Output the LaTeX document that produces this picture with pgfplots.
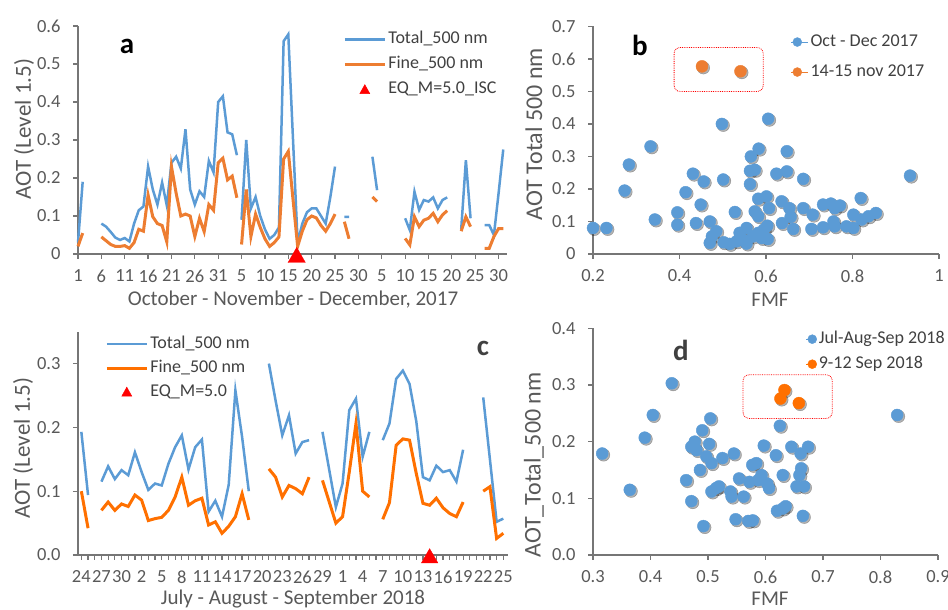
\documentclass[border=0pt]{standalone}
\usepackage{fontspec}
\setmainfont{Carlito}
\usepackage{pgfplots}
\usepackage{pgfplotstable}
\pgfplotsset{compat=1.18}

\definecolor{tblue}{RGB}{91,155,213}
\definecolor{forange}{RGB}{237,125,49}
\definecolor{forange2}{RGB}{255,112,0}
\definecolor{axgray}{RGB}{118,118,118}
\definecolor{txtgray}{RGB}{89,89,89}
\definecolor{lettgray}{RGB}{64,64,64}

% daily AOT, Oct-Dec 2017 (day 1 = 1 Oct)
\pgfplotstableread{
day total fine
1 0.03 0.02
2 0.19 0.055
3 nan nan
6 0.08 0.045
7 0.072 0.035
8 0.058 0.025
9 0.043 0.02
10 0.037 0.02
11 0.042 0.022
12 0.033 0.015
13 0.08 0.03
14 0.115 0.065
15 0.125 0.06
16 0.23 0.155
17 0.17 0.098
18 0.13 0.08
19 0.188 0.075
20 0.128 0.032
21 0.24 0.23
22 0.256 0.16
23 0.225 0.1
24 0.328 0.105
25 0.17 0.1
26 0.13 0.046
27 0.165 0.094
28 0.15 0.059
29 0.245 0.13
30 0.215 0.115
31 0.40 0.24
32 0.415 0.252
33 0.32 0.195
34 0.315 0.205
35 0.26 0.148
35.5 nan nan
36 0.09 0.025
37 0.30 0.17
38 0.12 0.046
39 0.15 0.105
40 0.10 0.07
41 0.065 0.04
42 0.04 0.02
43 0.05 0.03
44 0.07 0.045
45 0.56 0.25
46 0.578 0.27
48 0.03 0.02
49 0.08 0.06
50 0.11 0.09
51 0.12 0.10
52 0.12 0.095
53 0.10 0.075
54 0.08 0.06
55 0.15 0.08
56 0.23 0.105
57 nan nan
58 0.098 0.085
59 0.098 0.04
60 nan nan
64 0.256 0.15
65 0.168 0.138
66 nan nan
71 0.094 0.041
72 0.063 0.024
73 0.164 0.098
74 0.116 0.072
75 0.142 0.089
76 0.138 0.094
77 0.149 0.107
78 0.12 0.085
79 0.142 0.103
80 0.149 0.114
81 nan nan
83 0.065 0.06
84 0.247 0.098
85 0.094 0.072
86 nan nan
88 0.076 0.015
89 0.076 0.015
90 0.05 0.046
91 0.16 0.067
92 0.275 0.067
}\octdec

% daily AOT, Jul-Sep 2018 (day 0 = 24 Jul)
\pgfplotstableread{
day total fine
0 0.193 0.10
1 0.094 0.042
2 nan nan
3 0.115 0.07
4 0.139 0.083
5 0.119 0.07
6 0.133 0.08
7 0.125 0.076
8 0.161 0.094
9 0.13 0.086
10 0.102 0.054
11 0.112 0.057
12 0.109 0.059
13 0.143 0.07
14 0.169 0.091
15 0.1875 0.122
16 0.134 0.078
17 0.169 0.085
18 0.181 0.089
19 0.068 0.047
20 0.085 0.052
21 0.06 0.034
22 0.11 0.045
23 0.258 0.06
24 0.185 0.096
25 0.10 0.055
26 nan nan
28 0.30 0.135
29 0.242 0.122
30 0.1875 0.091
31 0.219 0.109
32 0.159 0.104
33 0.177 0.096
34 0.18 0.122
35 nan nan
36 0.193 0.117
38 0.075 0.05
39 0.112 0.06
40 0.227 0.13
41 0.245 0.206
42 0.154 0.10
43 0.193 0.091
44 nan nan
45 0.18 0.056
46 0.206 0.082
47 0.276 0.172
48 0.289 0.182
49 0.268 0.18
50 0.21 0.128
51 0.122 0.081
52 0.117 0.078
53 0.14 0.089
54 0.13 0.074
55 0.133 0.065
56 0.115 0.06
57 0.165 0.083
58 nan nan
60 0.247 0.10
61 0.15 0.107
62 0.052 0.026
63 0.057 0.034
}\julsep

% FMF vs AOT, Oct-Dec 2017
\pgfplotstableread{
fmf aot
0.2 0.08
0.231 0.08
0.273 0.195
0.283 0.275
0.333 0.331
0.343 0.106
0.395 0.128
0.395 0.09
0.414 0.19
0.431 0.247
0.438 0.095
0.449 0.152
0.456 0.223
0.47 0.10
0.47 0.034
0.475 0.054
0.485 0.07
0.498 0.40
0.501 0.229
0.502 0.036
0.516 0.031
0.528 0.129
0.532 0.039
0.547 0.044
0.555 0.032
0.555 0.08
0.563 0.215
0.563 0.256
0.565 0.30
0.574 0.259
0.574 0.131
0.57 0.054
0.582 0.065
0.582 0.116
0.582 0.17
0.583 0.324
0.59 0.049
0.595 0.075
0.601 0.177
0.603 0.087
0.604 0.046
0.605 0.416
0.607 0.141
0.624 0.247
0.636 0.162
0.637 0.095
0.648 0.254
0.648 0.316
0.654 0.141
0.657 0.114
0.663 0.077
0.686 0.231
0.686 0.141
0.708 0.121
0.705 0.077
0.732 0.082
0.732 0.152
0.75 0.155
0.756 0.10
0.759 0.085
0.759 0.141
0.771 0.149
0.786 0.085
0.802 0.121
0.802 0.08
0.819 0.172
0.821 0.106
0.837 0.116
0.854 0.126
0.933 0.241
0.539 0.065
}\scatB
\pgfplotstableread{
fmf aot
0.452 0.577
0.541 0.562
}\scatBev

% FMF vs AOT, Jul-Sep 2018
\pgfplotstableread{
fmf aot
0.316 0.179
0.364 0.115
0.39 0.207
0.404 0.247
0.437 0.303
0.462 0.132
0.471 0.095
0.471 0.191
0.48 0.185
0.477 0.2
0.486 0.15
0.49 0.22
0.492 0.051
0.497 0.174
0.502 0.196
0.504 0.241
0.506 0.162
0.506 0.112
0.514 0.118
0.519 0.121
0.525 0.171
0.539 0.112
0.541 0.103
0.545 0.179
0.548 0.063
0.554 0.135
0.562 0.103
0.57 0.06
0.578 0.061
0.572 0.129
0.577 0.159
0.584 0.162
0.587 0.132
0.593 0.141
0.597 0.193
0.603 0.126
0.606 0.118
0.618 0.176
0.62 0.078
0.625 0.228
0.63 0.082
0.635 0.086
0.63 0.141
0.645 0.191
0.654 0.121
0.659 0.141
0.662 0.153
0.661 0.179
0.667 0.121
0.665 0.069
0.674 0.191
0.829 0.247
}\scatD
\pgfplotstableread{
fmf aot
0.626 0.276
0.633 0.291
0.658 0.268
}\scatDev

\pgfplotsset{
  panel/.style={
    scale only axis, anchor=south west, clip=false,
    axis lines*=left,
    axis line style={-, draw=axgray, line width=1.2pt},
    tick align=outside, major tick length=5pt, minor tick length=5pt,
    tick style={axgray, line width=1.2pt},
    tick label style={font=\fontsize{18.5}{20}\selectfont, text=txtgray},
    xticklabel shift=7pt, yticklabel shift=9pt,
    /pgf/number format/assume math mode=true,
    /pgf/number format/fixed,
    legend cell align=left,
    legend style={draw=none, fill=none, font=\fontsize{18}{20}\selectfont,
      text=lettgray, inner sep=0pt, nodes={text height=12pt, text depth=4pt}},
  },
  linepanel/.style={panel, unbounded coords=jump,
    legend image code/.code={\draw[#1] (0pt,0pt) -- (40pt,0pt);}},
  scatpanel/.style={panel,
    legend image code/.code={\draw[#1, mark size=4.5pt] plot coordinates {(6pt,0pt)};
      \path (0pt,0pt) -- (17pt,0pt);}},
  shadow/.style={only marks, mark=*, mark size=6.3pt, color=black, opacity=0.3,
    forget plot, xshift=1.4pt, yshift=-1.4pt},
}

\begin{document}
\begin{tikzpicture}
\useasboundingbox (0,0) rectangle (948pt,610pt);

% ---------------- a ----------------
\begin{axis}[linepanel,
  at={(78pt,356pt)}, width=429pt, height=228pt,
  xmin=1, xmax=92.8, ymin=0, ymax=0.6,
  xtick={1,6,...,91},
  xticklabels={1,6,11,16,21,26,31,5,10,15,20,25,30,5,10,15,20,25,30},
  ytick={0,0.1,0.2,0.3,0.4,0.5,0.6},
  legend style={at={(0.618,0.985)}, anchor=north west, row sep=5pt},
]
\addplot[tblue, line width=2.5pt] table[x=day, y=total] {\octdec};
\addlegendentry{Total\_500 nm}
\addplot[forange, line width=3pt] table[x=day, y=fine] {\octdec};
\addlegendentry{Fine\_500 nm}
\addlegendimage{legend image code/.code={\fill[red] (15pt,-4pt) -- (25pt,-4pt) -- (20pt,5pt) -- cycle;}}
\addlegendentry{EQ\_M=5.0\_ISC}
\addplot[only marks, mark=triangle*, mark size=10pt, color=red, forget plot]
  coordinates {(47.8,-0.0092)};
\end{axis}

% ---------------- b ----------------
\begin{axis}[scatpanel,
  at={(593pt,356pt)}, width=346pt, height=227.6pt,
  xmin=0.2, xmax=1, ymin=0, ymax=0.7,
  xtick={0.2,0.4,0.6,0.8,1},
  ytick={0,0.1,0.2,0.3,0.4,0.5,0.6,0.7},
  legend style={at={(0.572,0.976)}, anchor=north west, row sep=10pt},
]
\addplot[shadow] table[x=fmf, y=aot] {\scatB};
\addplot[shadow] table[x=fmf, y=aot] {\scatBev};
\addplot[only marks, mark=*, mark size=6pt, color=tblue] table[x=fmf, y=aot] {\scatB};
\addlegendentry{Oct - Dec 2017}
\addplot[only marks, mark=*, mark size=6pt, color=forange] table[x=fmf, y=aot] {\scatBev};
\addlegendentry{14-15 nov 2017}
\draw[red, densely dotted, line width=0.8pt, rounded corners=6pt]
  (axis cs:0.3875,0.50) rectangle (axis cs:0.5935,0.635);
\end{axis}

% ---------------- c ----------------
\begin{axis}[linepanel,
  at={(78pt,55pt)}, width=430pt, height=223.3pt,
  xmin=-0.5, xmax=63.7, ymin=0, ymax=0.35,
  xtick={0,3,...,63},
  xticklabels={24,27,30,2,5,8,11,14,17,20,23,26,29,1,4,7,10,13,16,19,22,25},
  minor xtick={0,1,...,63},
  ytick={0,0.1,0.2,0.3},
  yticklabel style={/pgf/number format/precision=1, /pgf/number format/fixed zerofill},
  legend style={at={(0.063,0.99)}, anchor=north west, row sep=4pt},
]
\addplot[tblue, line width=2.5pt] table[x=day, y=total] {\julsep};
\addlegendentry{Total\_500 nm}
\addplot[forange2, line width=3pt] table[x=day, y=fine] {\julsep};
\addlegendentry{Fine\_500 nm}
\addlegendimage{legend image code/.code={\fill[red] (15pt,-4pt) -- (25pt,-4pt) -- (20pt,5pt) -- cycle;}}
\addlegendentry{EQ\_M=5.0}
\addplot[only marks, mark=triangle*, mark size=9.5pt, color=red, forget plot]
  coordinates {(52,-0.005)};
\end{axis}

% ---------------- d ----------------
\begin{axis}[scatpanel,
  at={(593pt,55pt)}, width=345pt, height=226.7pt,
  xmin=0.3, xmax=0.9, ymin=0, ymax=0.4,
  xtick={0.3,0.4,0.5,0.6,0.7,0.8,0.9},
  ytick={0,0.1,0.2,0.3,0.4},
  ticklabel style={/pgf/number format/precision=1, /pgf/number format/fixed zerofill},
  legend image code/.code={\draw[#1, mark size=4.5pt] plot coordinates {(6pt,0pt)};
    \path (0pt,0pt) -- (9pt,0pt);},
  legend style={at={(0.617,0.997)}, anchor=north west, row sep=5pt},
]
\addplot[shadow] table[x=fmf, y=aot] {\scatD};
\addplot[shadow] table[x=fmf, y=aot] {\scatDev};
\addplot[only marks, mark=*, mark size=6pt, color=tblue] table[x=fmf, y=aot] {\scatD};
\addlegendentry{Jul-Aug-Sep 2018}
\addplot[only marks, mark=*, mark size=6pt, color=forange2] table[x=fmf, y=aot] {\scatDev};
\addlegendentry{9-12 Sep 2018}
\draw[red, densely dotted, line width=0.8pt, rounded corners=6pt]
  (axis cs:0.561,0.241) rectangle (axis cs:0.716,0.318);
\end{axis}

% ---------------- labels ----------------
\begin{scope}[font=\fontsize{21}{24}\selectfont, text=txtgray]
\node at (293pt,310pt) {October - November - December, 2017};
\node at (293pt,11pt) {July - August - September 2018};
\node at (770pt,310pt) {FMF};
\node at (770pt,11pt) {FMF};
\end{scope}
\begin{scope}[font=\fontsize{23}{26}\selectfont, text=txtgray]
\node[rotate=90] at (24pt,481pt) {AOT (Level 1.5)};
\node[rotate=90] at (23pt,162pt) {AOT (Level 1.5)};
\end{scope}
\begin{scope}[font=\fontsize{24}{27}\selectfont, text=txtgray]
\node[rotate=90] at (534pt,476pt) {AOT Total 500 nm};
\node[rotate=90] at (534pt,145pt) {AOT\_Total\_500 nm};
\end{scope}
\begin{scope}[font=\fontsize{29}{32}\selectfont\bfseries]
\node at (127pt,564pt) {a};
\node at (640pt,565pt) {b};
\node[text=lettgray] at (483pt,262pt) {c};
\node[text=lettgray] at (681pt,260pt) {d};
\end{scope}
\end{tikzpicture}
\end{document}
